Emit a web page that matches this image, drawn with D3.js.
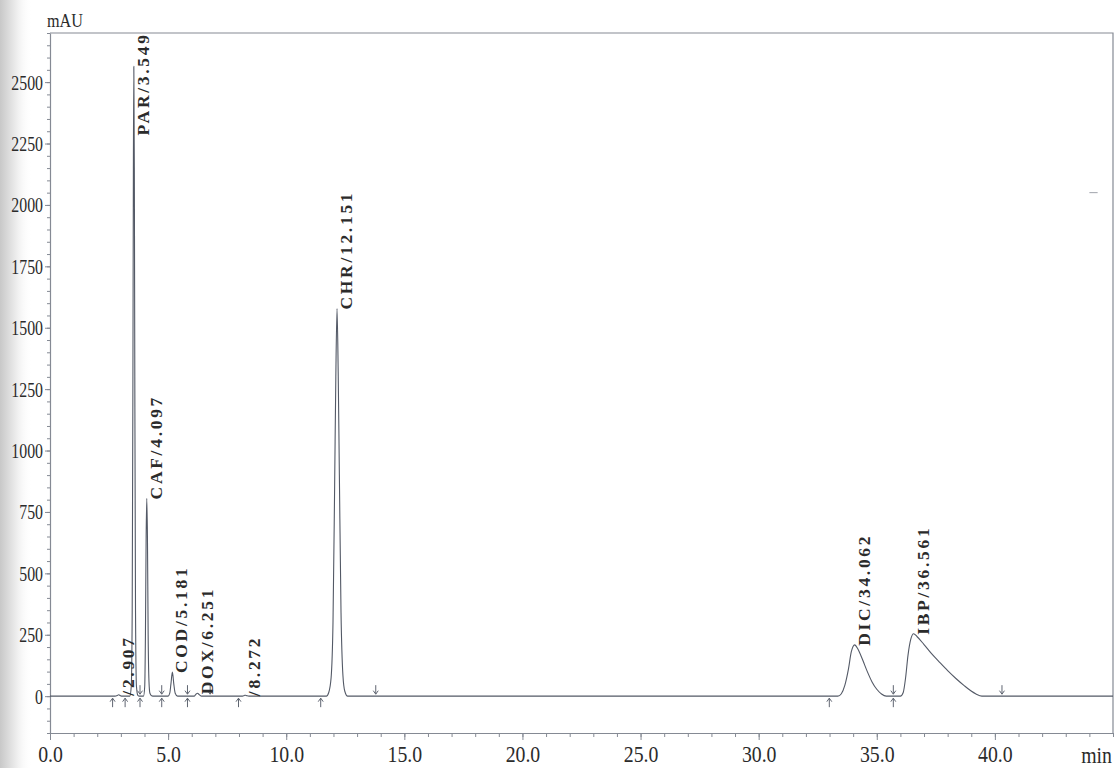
<!DOCTYPE html>
<html>
<head>
<meta charset="utf-8">
<script src="https://cdn.jsdelivr.net/npm/d3@7"></script>
<style>
  html, body { margin: 0; padding: 0; background: #fff; }
  svg { display: block; }
  text { font-family: "Liberation Serif", "Times New Roman", serif; }
</style>
</head>
<body>
<svg id="chart" width="1117" height="768"></svg>
<script>
// Detector trace: [retention time (min), absorbance (mAU)]
const trace = [
  [0, 0], [2.75, 0], [2.85, 3], [2.907, 6], [2.98, 2], [3.08, 0],
  [3.38, 0], [3.44, 40], [3.48, 350], [3.51, 1300], [3.53, 2150], [3.549, 2564],
  [3.57, 2150], [3.59, 1300], [3.62, 350], [3.66, 40], [3.72, 3], [3.78, 0],
  [3.96, 0], [4.01, 40], [4.04, 250], [4.07, 650], [4.097, 805], [4.125, 650],
  [4.155, 250], [4.19, 60], [4.23, 12], [4.3, 2], [4.4, 0],
  [5.0, 0], [5.07, 12], [5.12, 50], [5.181, 98], [5.24, 50], [5.3, 12], [5.4, 0],
  [6.1, 0], [6.18, 8], [6.251, 12], [6.32, 6], [6.42, 0],
  [8.15, 0], [8.23, 3], [8.272, 4], [8.33, 2], [8.42, 0],
  [11.7, 0], [11.8, 15], [11.9, 75], [11.98, 300], [12.05, 860], [12.1, 1300],
  [12.151, 1578], [12.2, 1320], [12.25, 900], [12.32, 340], [12.4, 85], [12.48, 20], [12.6, 0],
  [33.35, 0], [33.5, 10], [33.65, 45], [33.8, 110], [33.92, 180], [34.062, 209],
  [34.2, 192], [34.4, 148], [34.6, 100], [34.8, 58], [35.0, 28], [35.2, 9], [35.4, 0],
  [36.0, 0], [36.12, 15], [36.22, 75], [36.32, 165], [36.44, 232], [36.561, 254],
  [36.7, 243], [37.0, 210], [37.3, 175], [37.64, 140], [38.0, 104], [38.35, 72],
  [38.7, 43], [38.98, 22], [39.2, 9], [39.45, 0], [45, 0]
];

// Identified peaks
const peakNames   = ["", "PAR", "CAF", "COD", "DOX", "", "CHR", "DIC", "IBP"];
const peakTimes   = [2.907, 3.549, 4.097, 5.181, 6.251, 8.272, 12.151, 34.062, 36.561];
const peakHeights = [6, 2564, 805, 98, 12, 4, 1578, 209, 254];

// Integration baseline markers (start = up arrow, end = down arrow)
const baselineStarts = [2.65, 3.18, 3.81, 4.73, 5.82, 7.98, 11.46, 32.99, 35.70];
const baselineEnds   = [3.81, 4.73, 5.82, 6.78, 13.79, 35.70, 40.30];

// Axis ticks
const xTicks = [0, 5, 10, 15, 20, 25, 30, 35, 40];
const yTicks = [0, 250, 500, 750, 1000, 1250, 1500, 1750, 2000, 2250, 2500];
const xUnit = "min";
const yUnit = "mAU";

const svg = d3.select("#chart");
const W = 1117, H = 768;
const margin = { left: 50, top: 33, right: 4, bottom: 35 };
const plotW = W - margin.left - margin.right;
const plotH = H - margin.top - margin.bottom;

const frameColor = "#858a94";
const traceColor = "#535966";
const textColor = "#2b2b2b";

// Soft shading along the left edge of the page
const defs = svg.append("defs");
const grad = defs.append("linearGradient").attr("id", "edge").attr("x1", 0).attr("x2", 1);
grad.append("stop").attr("offset", 0).attr("stop-color", "#c8c8c8");
grad.append("stop").attr("offset", 0.5).attr("stop-color", "#ececec");
grad.append("stop").attr("offset", 1).attr("stop-color", "#ffffff").attr("stop-opacity", 0);
svg.append("rect").attr("x", 0).attr("y", 0).attr("width", 32).attr("height", H).attr("fill", "url(#edge)");

const x = d3.scaleLinear().domain([0, 45]).range([0, plotW]);
const y = d3.scaleLinear().domain([-150, 2700]).range([plotH, 0]);

const g = svg.append("g").attr("transform", `translate(${margin.left},${margin.top})`);

// Frame: top and right borders
g.append("path")
  .attr("d", `M0,0H${plotW}V${plotH}`)
  .attr("fill", "none").attr("stroke", frameColor).attr("stroke-width", 1.2);

// Minor ticks
g.append("g").attr("transform", `translate(0,${plotH})`)
  .call(d3.axisBottom(x).tickValues(d3.range(0, 46, 1)).tickSize(4).tickFormat(""))
  .call(a => a.select(".domain").remove())
  .call(a => a.selectAll("line").attr("stroke", frameColor));
g.append("g")
  .call(d3.axisLeft(y).tickValues(d3.range(-150, 2701, 50)).tickSize(3).tickFormat(""))
  .call(a => a.select(".domain").remove())
  .call(a => a.selectAll("line").attr("stroke", frameColor));

// Major x axis
const xScaleText = 0.86;
const xAxis = g.append("g").attr("transform", `translate(0,${plotH})`)
  .call(d3.axisBottom(x).tickValues(xTicks).tickSize(7).tickPadding(0).tickSizeOuter(0)
    .tickFormat(d3.format(".1f")));
xAxis.select(".domain").attr("stroke", frameColor).attr("stroke-width", 1.2);
xAxis.selectAll("line").attr("stroke", frameColor);
xAxis.selectAll("text")
  .attr("fill", textColor).style("font-size", "23px")
  .attr("y", 29.5).attr("dy", null)
  .attr("transform", `scale(${xScaleText},1)`);

// Major y axis
const yScaleText = 0.72;
const yAxis = g.append("g")
  .call(d3.axisLeft(y).tickValues(yTicks).tickSize(5).tickPadding(2).tickSizeOuter(0)
    .tickFormat(d3.format("d")));
yAxis.select(".domain").attr("stroke", frameColor).attr("stroke-width", 1.2);
yAxis.selectAll("line").attr("stroke", frameColor);
yAxis.selectAll("text")
  .attr("fill", textColor).style("font-size", "22px")
  .attr("x", -7 / yScaleText)
  .attr("transform", `scale(${yScaleText},1)`);

// Unit labels
svg.append("text")
  .attr("transform", "translate(47,27) scale(0.85,1)")
  .attr("fill", textColor).style("font-size", "19px")
  .text(yUnit);
svg.append("text")
  .attr("transform", "translate(1112,762.5) scale(0.86,1)")
  .attr("text-anchor", "end")
  .attr("fill", textColor).style("font-size", "23px")
  .text(xUnit);

// Chromatogram trace
const line = d3.line()
  .x(d => x(d[0]))
  .y(d => y(d[1]))
  .curve(d3.curveMonotoneX);
g.append("path")
  .datum(trace)
  .attr("d", line)
  .attr("fill", "none")
  .attr("stroke", traceColor)
  .attr("stroke-width", 1.1)
  .attr("stroke-linejoin", "round");

// Baseline markers
const y0 = y(0);
const markers = g.append("g").attr("stroke", "#5f6571").attr("stroke-width", 1).attr("fill", "none");
markers.selectAll("path.start")
  .data(baselineStarts).join("path").attr("class", "start")
  .attr("d", t => {
    const px = x(t);
    return `M${px},${y0 + 11}V${y0 + 2}M${px - 2.5},${y0 + 5.5}L${px},${y0 + 2}L${px + 2.5},${y0 + 5.5}`;
  });
markers.selectAll("path.end")
  .data(baselineEnds).join("path").attr("class", "end")
  .attr("d", t => {
    const px = x(t);
    return `M${px},${y0 - 11}V${y0 - 2}M${px - 2.5},${y0 - 5.5}L${px},${y0 - 2}L${px + 2.5},${y0 - 5.5}`;
  });

// Peak labels, rotated and set just right of each apex, with wide letter spacing
const labels = g.append("g");
peakTimes.forEach((t, i) => {
  const str = `${peakNames[i]}/${t.toFixed(3)}`;
  const txt = labels.append("text")
    .attr("text-anchor", "start")
    .attr("fill", textColor)
    .style("font-size", "17.5px")
    .style("font-weight", "bold")
    .text(str);
  const natural = txt.node().getComputedTextLength();
  const len = natural + 2.7 * (str.length - 1);
  txt.attr("textLength", len).attr("lengthAdjust", "spacing");
  const lx = x(t) + 15;
  let ly = y(peakHeights[i]) + 1;
  if (ly - len < 2) ly = 2 + len;
  txt.attr("transform", `translate(${lx},${ly}) rotate(-90)`);
});

// Small mark near the right border
g.append("line")
  .attr("x1", x(44.0)).attr("x2", x(44.35))
  .attr("y1", y(2050)).attr("y2", y(2050))
  .attr("stroke", "#a0a4ac").attr("stroke-width", 1);
</script>
</body>
</html>
